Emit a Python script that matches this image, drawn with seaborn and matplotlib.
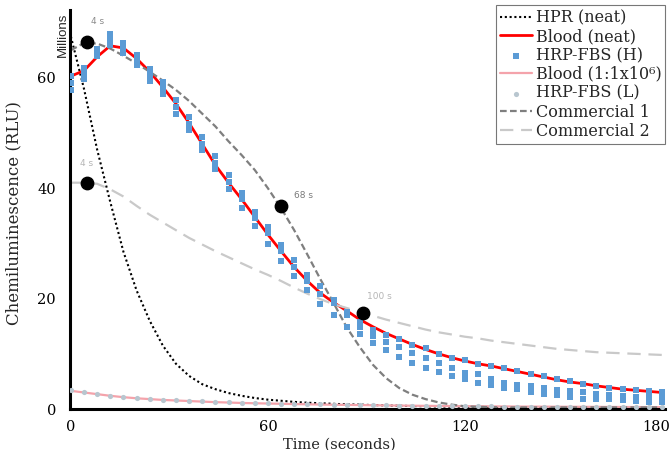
import numpy as np
import pandas as pd
import matplotlib
matplotlib.use('Agg')
import matplotlib.pyplot as plt
import matplotlib.transforms as mtrans
import seaborn as sns

# time points (seconds)
t = list(range(0, 181, 4))

hpr_neat = [67.5, 58.0, 47.0, 37.5, 28.5, 21.5, 16.0, 11.5, 8.2, 6.0, 4.5, 3.6, 2.9, 2.4,
            2.0, 1.7, 1.5, 1.3, 1.15, 1.05, 0.95, 0.85, 0.8, 0.72, 0.66, 0.6, 0.55, 0.5,
            0.47, 0.44, 0.41, 0.39, 0.37, 0.35, 0.33, 0.32, 0.31, 0.3, 0.29, 0.28, 0.27,
            0.26, 0.26, 0.25, 0.25, 0.25]

blood_neat = [60.3, 61.3, 63.8, 65.8, 65.4, 63.5, 61.1, 58.3, 55.3, 51.8, 48.0, 44.2, 41.0,
              38.0, 34.8, 31.6, 28.6, 25.7, 23.2, 21.0, 19.3, 17.8, 16.2, 14.9, 13.7, 12.7,
              11.7, 10.8, 10.0, 9.3, 8.7, 8.2, 7.8, 7.3, 6.8, 6.3, 5.8, 5.3, 4.9, 4.6, 4.2,
              3.9, 3.6, 3.4, 3.2, 3.0]

fbs_h1 = [60.3, 61.8, 65.2, 68.0, 66.3, 64.2, 61.6, 59.2, 55.9, 52.9, 49.2, 45.9, 42.4, 39.1,
          35.7, 33.0, 29.7, 27.0, 24.3, 22.2, 19.7, 17.5, 15.8, 14.4, 13.4, 12.6, 11.6, 11.0,
          10.0, 9.2, 8.9, 8.2, 7.8, 7.4, 6.9, 6.4, 5.9, 5.4, 5.0, 4.6, 4.2, 3.9, 3.6, 3.4,
          3.2, 3.0]
fbs_h2 = [59.0, 60.8, 64.5, 67.0, 65.4, 63.3, 60.5, 58.1, 54.8, 51.7, 48.1, 44.6, 41.2, 38.0,
          34.6, 31.8, 28.6, 25.8, 23.2, 20.9, 19.2, 17.0, 14.9, 13.3, 12.2, 11.3, 10.2, 9.2,
          8.3, 7.5, 6.6, 6.3, 5.4, 4.7, 4.4, 4.1, 3.8, 3.5, 3.2, 3.0, 2.7, 2.5, 2.35, 2.2,
          2.1, 2.0]
fbs_h3 = [57.8, 59.8, 63.9, 66.0, 64.5, 62.4, 59.4, 57.0, 53.4, 50.6, 47.0, 43.4, 39.9, 36.4,
          33.1, 29.9, 26.9, 24.1, 21.6, 19.1, 17.0, 14.9, 13.6, 11.9, 10.7, 9.4, 8.4, 7.5,
          6.8, 6.0, 5.4, 4.7, 4.3, 3.9, 3.6, 3.1, 2.8, 2.5, 2.1, 1.9, 1.75, 1.75, 1.6, 1.5,
          1.3, 1.3]

blood_dil = [3.3, 3.0, 2.7, 2.4, 2.15, 1.95, 1.8, 1.65, 1.55, 1.45, 1.35, 1.25, 1.18, 1.1,
             1.05, 1.0, 0.95, 0.9, 0.86, 0.82, 0.78, 0.75, 0.72, 0.69, 0.66, 0.63, 0.6, 0.58,
             0.56, 0.54, 0.52, 0.5, 0.48, 0.47, 0.45, 0.44, 0.43, 0.42, 0.41, 0.4, 0.39, 0.38,
             0.37, 0.36, 0.35, 0.35]
fbs_l = [3.5, 3.1, 2.7, 2.4, 2.2, 2.0, 1.8, 1.7, 1.6, 1.5, 1.4, 1.3, 1.2, 1.15, 1.1, 1.05,
         1.0, 0.95, 0.9, 0.86, 0.82, 0.78, 0.74, 0.7, 0.67, 0.64, 0.61, 0.58, 0.56, 0.54,
         0.52, 0.5, 0.48, 0.46, 0.45, 0.44, 0.42, 0.41, 0.4, 0.39, 0.38, 0.37, 0.36, 0.35,
         0.35, 0.34]

commercial1 = [65.0, 66.3, 66.2, 65.3, 64.0, 62.6, 61.1, 59.5, 57.8, 55.8, 53.5, 51.2, 48.5,
               46.0, 43.3, 40.0, 36.4, 32.4, 28.0, 23.5, 19.2, 14.8, 11.2, 8.0, 5.6, 3.8,
               2.6, 1.8, 1.2, 0.8, 0.5, 0.4, 0.35, 0.3, 0.3, 0.3, 0.3, 0.3, 0.3, 0.3, 0.3,
               0.3, 0.3, 0.3, 0.3, 0.3]
commercial2 = [41.0, 41.0, 40.8, 39.8, 38.5, 36.8, 35.2, 33.8, 32.4, 31.0, 29.8, 28.6, 27.5,
               26.4, 25.3, 24.3, 23.2, 22.0, 20.9, 19.9, 19.0, 18.3, 17.6, 16.9, 16.2, 15.6,
               15.0, 14.4, 13.9, 13.5, 13.1, 12.8, 12.4, 12.1, 11.8, 11.5, 11.2, 10.9, 10.7,
               10.5, 10.3, 10.2, 10.1, 10.0, 9.9, 9.8]

# marked points and their labels
dot_t = [5, 5, 64, 89]
dot_y = [66.5, 41.0, 36.8, 17.4]
note_text = ['4 s', '4 s', '68 s', '100 s']
note_t = [8.1, 4.7, 70.9, 93.8]
note_y = [70.2, 44.5, 38.6, 20.3]
note_col = ['#8a8a8a', '#b5b5b5', '#7a7a7a', '#b5b5b5']

sns.set_theme(style='white')
serif = ['DejaVu Serif']
plt.rcParams['font.family'] = serif

fig = plt.figure(figsize=(6.72, 4.5), dpi=100)
ax = fig.add_axes([0.104, 0.091, 0.886, 0.887])

h_df = pd.DataFrame({'t': t * 3, 'v': fbs_h1 + fbs_h2 + fbs_h3})

sns.lineplot(x=t, y=hpr_neat, ax=ax, color='black', linestyle=(0, (1, 1.3)), linewidth=1.5,
             label='HPR (neat)')
sns.lineplot(x=t, y=blood_neat, ax=ax, color='#ff0000', linewidth=2, label='Blood (neat)')
sns.scatterplot(data=h_df, x='t', y='v', ax=ax, marker='s', s=16, color='#5b9bd5',
                linewidth=0, label='HRP-FBS (H)', zorder=3)
sns.lineplot(x=t, y=blood_dil, ax=ax, color='#f4a3ab', linewidth=1.6, label='Blood (1:1x10⁶)')
sns.scatterplot(x=t, y=fbs_l, ax=ax, marker='o', s=14, color='#b8c6cf', linewidth=0,
                label='HRP-FBS (L)', zorder=3)
sns.lineplot(x=t, y=commercial1, ax=ax, color='#7f7f7f', linestyle=(0, (3, 1.5)),
             linewidth=1.6, label='Commercial 1')
sns.lineplot(x=t, y=commercial2, ax=ax, color='#c9c9c9', linestyle=(0, (6, 3.5)),
             linewidth=1.6, label='Commercial 2')

ax.scatter(dot_t, dot_y, s=80, color='black', zorder=5)
for txt, x, y, c in zip(note_text, note_t, note_y, note_col):
    ax.text(x, y, txt, color=c, fontsize=6.5, ha='center', va='center',
            family=['Liberation Sans Narrow', 'DejaVu Sans'])

ax.set_xlim(-0.3, 181)
ax.set_ylim(0, 72.3)
ax.set_xticks([0, 60, 120, 180])
ax.set_yticks([0, 20, 40, 60])
ax.tick_params(axis='both', length=0, labelsize=10.5, colors='black')
ax.tick_params(axis='x', pad=8)
ax.tick_params(axis='y', pad=10)
# keep the last x label inside the figure
last = ax.get_xticklabels()[-1]
last.set_transform(last.get_transform() +
                   mtrans.ScaledTranslation(-6 / 100, 0, fig.dpi_scale_trans))
for s in ['top', 'right']:
    ax.spines[s].set_visible(False)
for s in ['left', 'bottom']:
    ax.spines[s].set_color('black')
    ax.spines[s].set_linewidth(2.2)

ax.set_xlabel('Time (seconds)', fontsize=10.5)
ax.xaxis.set_label_coords(0.452, -0.071)
ax.set_ylabel('Chemiluminescence (RLU)', fontsize=12)
ax.yaxis.set_label_coords(-0.079, 0.49)
fig.text(0.093, 0.922, 'Millions', rotation=90, fontsize=9.5, ha='center', va='center',
         family=['Liberation Sans', 'DejaVu Sans'])

leg = ax.legend(loc='upper right', bbox_to_anchor=(1.0, 1.012), fontsize=11.5,
                frameon=True, fancybox=False, edgecolor='#555555', handlelength=2.0,
                handletextpad=0.2, labelspacing=0.12, borderpad=0.25, borderaxespad=0)
leg.get_frame().set_linewidth(0.8)

fig.savefig('out.png', dpi=100, facecolor='white')
